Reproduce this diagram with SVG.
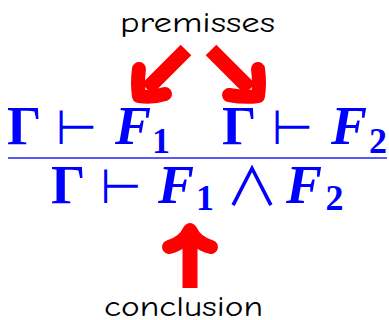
<svg xmlns="http://www.w3.org/2000/svg" width="389" height="320" viewBox="0 0 389 320">
<style>
.lbl{font-family:"Comic Sans MS","Comic Neue","DejaVu Sans",sans-serif;font-size:28px;fill:#000}
.m{fill:#0000ff;font-family:"Liberation Serif","Times New Roman",serif;font-weight:bold;font-size:54px}
.it{font-style:italic}
.sub{font-size:36px}
.sym{font-family:"DejaVu Sans",sans-serif;font-weight:normal;font-size:48px}
.arr{fill:none;stroke:#ff0000;stroke-width:14;stroke-linecap:round;stroke-linejoin:round}
.shaft{fill:none;stroke:#ff0000;stroke-width:15;stroke-linecap:butt}
</style>
<rect width="389" height="320" fill="#fff"/>
<g id="premisses-label"><text class="lbl" x="120" y="32" textLength="155" lengthAdjust="spacingAndGlyphs">premisses</text></g>
<g id="premise1">
<text class="m" x="7" y="144">Γ</text>
<text class="m sym" x="76.5" y="144" text-anchor="middle">⊢</text>
<text class="m it" x="115" y="144">F</text>
<text class="m sub" x="161" y="153" text-anchor="middle">1</text>
</g>
<g id="premise2">
<text class="m" x="222" y="144">Γ</text>
<text class="m sym" x="292.5" y="144" text-anchor="middle">⊢</text>
<text class="m it" x="331" y="144">F</text>
<text class="m sub" x="378" y="153" text-anchor="middle">2</text>
</g>
<g id="rule"><line x1="8" y1="158" x2="387" y2="158" stroke="#2020ff" stroke-width="1.6"/></g>
<g id="conclusion-formula">
<text class="m" x="51" y="203">Γ</text>
<text class="m sym" x="121" y="203" text-anchor="middle">⊢</text>
<text class="m it" x="158" y="203">F</text>
<text class="m sub" x="205" y="210" text-anchor="middle">1</text>
<text x="252" y="206" text-anchor="middle" style="fill:#0000ff;font-family:'Noto Sans CJK JP',sans-serif;font-weight:400;font-style:normal;font-size:53px">∧</text>
<text class="m it" x="286" y="203">F</text>
<text class="m sub" x="334.5" y="210" text-anchor="middle">2</text>
</g>
<g id="conclusion-label"><text class="lbl" x="104" y="316" textLength="159" lengthAdjust="spacingAndGlyphs">conclusion</text></g>
<g id="connectors">
<path class="shaft" d="M186,50 L147,89"/>
<path class="arr" d="M139,69 Q137,84 139,96 Q152,98 165,94"/>
<path class="shaft" d="M211,50 L250,89"/>
<path class="arr" d="M258,69 Q260,84 258,96 Q245,98 229,95"/>
<path class="shaft" d="M190,288 L190,238"/>
<path class="arr" d="M169,247 Q184,243 190,230 Q196,243 211,247"/>
</g>
</svg>
